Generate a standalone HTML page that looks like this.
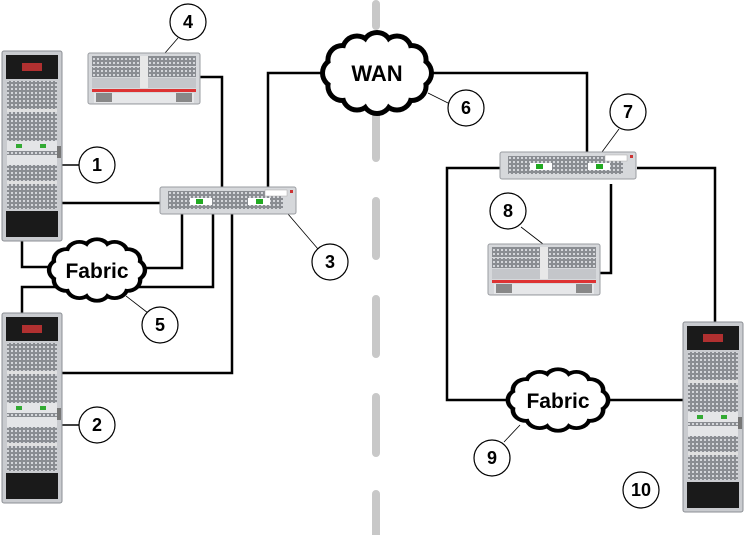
<!DOCTYPE html>
<html><head><style>
html,body{margin:0;padding:0;background:#fff;}
svg{display:block;}
text{font-family:"Liberation Sans",Arial,sans-serif;font-weight:bold;}
</style></head><body>
<svg width="745" height="535" viewBox="0 0 745 535" xmlns="http://www.w3.org/2000/svg">
<defs>
  <pattern id="vent" width="4" height="4" patternUnits="userSpaceOnUse">
    <rect width="4" height="4" fill="#8a8d92"/><rect x="1" y="1" width="2" height="2" fill="#d4d6da"/>
  </pattern>
  <g id="cloudShape">
    <g fill="#000">
      <ellipse cx="0" cy="0" rx="42" ry="28"/>
      <circle cx="40" cy="0" r="17"/><circle cx="34.6" cy="13" r="17"/><circle cx="20" cy="22.5" r="17"/>
      <circle cx="0" cy="26" r="17"/><circle cx="-20" cy="22.5" r="17"/><circle cx="-34.6" cy="13" r="17"/>
      <circle cx="-40" cy="0" r="17"/><circle cx="-34.6" cy="-13" r="17"/><circle cx="-20" cy="-22.5" r="17"/>
      <circle cx="0" cy="-26" r="17"/><circle cx="20" cy="-22.5" r="17"/><circle cx="34.6" cy="-13" r="17"/>
    </g>
    <g fill="#fff">
      <ellipse cx="0" cy="0" rx="42" ry="28"/>
      <circle cx="40" cy="0" r="12"/><circle cx="34.6" cy="13" r="12"/><circle cx="20" cy="22.5" r="12"/>
      <circle cx="0" cy="26" r="12"/><circle cx="-20" cy="22.5" r="12"/><circle cx="-34.6" cy="13" r="12"/>
      <circle cx="-40" cy="0" r="12"/><circle cx="-34.6" cy="-13" r="12"/><circle cx="-20" cy="-22.5" r="12"/>
      <circle cx="0" cy="-26" r="12"/><circle cx="20" cy="-22.5" r="12"/><circle cx="34.6" cy="-13" r="12"/>
    </g>
  </g>
  <g id="rack">
    <rect x="0" y="0" width="60" height="190" rx="2" fill="#c9cbcf" stroke="#8c8f94"/>
    <rect x="4" y="4" width="52" height="24" fill="#1a1a1a"/>
    <rect x="20" y="12" width="20" height="8" fill="#b03030"/>
    <rect x="5" y="30" width="50" height="128" fill="url(#vent)"/>
    <rect x="5" y="58" width="50" height="3" fill="#e0e0e0"/>
    <rect x="5" y="90" width="50" height="10" fill="#e4e5e7"/>
    <rect x="14" y="93" width="6" height="4" fill="#3a3"/><rect x="38" y="93" width="6" height="4" fill="#3a3"/>
    <rect x="5" y="104" width="50" height="10" fill="#e4e5e7"/>
    <rect x="5" y="130" width="50" height="3" fill="#e0e0e0"/>
    <rect x="4" y="160" width="52" height="26" fill="#1a1a1a"/>
    <rect x="55" y="95" width="4" height="12" fill="#777"/>
  </g>
  <g id="srv1u">
    <rect x="0" y="0" width="136" height="27" rx="2" fill="#d6d8db" stroke="#9a9da2"/>
    <rect x="8" y="4" width="115" height="18" fill="url(#vent)"/>
    <rect x="30" y="11" width="22" height="7" fill="#fff"/><rect x="36" y="12" width="7" height="5" fill="#2a2"/>
    <rect x="88" y="11" width="22" height="7" fill="#fff"/><rect x="96" y="12" width="7" height="5" fill="#2a2"/>
    <rect x="105" y="3" width="22" height="6" fill="#fff" stroke="#aaa" stroke-width="0.5"/>
    <rect x="130" y="3" width="3" height="3" fill="#c33"/>
  </g>
  <g id="srv4u">
    <rect x="0" y="0" width="112" height="51" rx="2" fill="#d6d8db" stroke="#9a9da2"/>
    <rect x="4" y="3" width="104" height="10" fill="url(#vent)"/>
    <rect x="4" y="14" width="104" height="10" fill="url(#vent)"/>
    <rect x="4" y="25" width="104" height="10" fill="#c4c6ca"/>
    <rect x="52" y="3" width="8" height="32" fill="#e8e8e8"/>
    <rect x="4" y="36" width="104" height="3" fill="#d33"/>
    <rect x="6" y="40" width="100" height="10" fill="#e6e7e9"/>
    <rect x="8" y="40" width="16" height="9" fill="#888"/><rect x="88" y="40" width="16" height="9" fill="#888"/>
  </g>
</defs>

<!-- dashed divider -->
<path d="M376,4 V26 M376,40 V158 M376,201 V256 M376,299 V354 M376,397 V453 M376,494 V540" stroke="#c8c8c8" stroke-width="8" stroke-linecap="round" fill="none"/>

<!-- connectors -->
<g fill="none" stroke="#000" stroke-width="2.5">
  <polyline points="200,77 222,77 222,187"/>
  <polyline points="268,187 268,73 330,73"/>
  <polyline points="425,73 587,73 587,152"/>
  <line x1="62" y1="203" x2="160" y2="203"/>
  <polyline points="22,240 22,267 58,267"/>
  <polyline points="138,268 182,268 182,214"/>
  <polyline points="130,287 213,287 213,214"/>
  <polyline points="22,313 22,287 60,287"/>
  <polyline points="232,214 232,373 62,373"/>
  <polyline points="500,168 447,168 447,400 512,400"/>
  <polyline points="637,168 715,168 715,322"/>
  <polyline points="611,184 611,273 600,273"/>
  <line x1="604" y1="400" x2="683" y2="400"/>
  <line x1="62" y1="165" x2="79" y2="165" stroke-width="1.5"/>
  <line x1="62" y1="425" x2="79" y2="425" stroke-width="1.5"/>
</g>
<g stroke="#000" stroke-width="0.8">
  <line x1="178" y1="38" x2="165" y2="53"/>
  <line x1="288" y1="214" x2="318" y2="249"/>
  <line x1="126" y1="296" x2="148" y2="313"/>
  <line x1="428" y1="93" x2="450" y2="104"/>
  <line x1="619" y1="129" x2="602" y2="152"/>
  <line x1="521" y1="227" x2="543" y2="244"/>
  <line x1="520" y1="425" x2="504" y2="442"/>
</g>

<!-- devices -->
<use href="#rack" x="2" y="51"/>
<use href="#rack" x="2" y="313"/>
<use href="#rack" x="683" y="322"/>
<use href="#srv4u" x="88" y="53"/>
<use href="#srv4u" x="488" y="244"/>
<use href="#srv1u" x="160" y="187"/>
<use href="#srv1u" x="500" y="152"/>

<!-- clouds -->
<g transform="translate(377,73)"><use href="#cloudShape"/></g>
<g transform="translate(97,270) scale(0.88,0.76)"><use href="#cloudShape"/></g>
<g transform="translate(558,400) scale(0.92,0.76)"><use href="#cloudShape"/></g>
<text x="377" y="81" font-size="22" text-anchor="middle">WAN</text>
<text x="97" y="278" font-size="21" text-anchor="middle">Fabric</text>
<text x="558" y="408" font-size="21" text-anchor="middle">Fabric</text>

<!-- callouts -->
<g fill="#fff" stroke="#000" stroke-width="1.2">
  <circle cx="97" cy="165" r="18"/><circle cx="188" cy="22" r="18"/><circle cx="330" cy="262" r="18"/>
  <circle cx="160" cy="325" r="18"/><circle cx="97" cy="425" r="18"/><circle cx="466" cy="108" r="18"/>
  <circle cx="628" cy="112" r="18"/><circle cx="508" cy="211" r="18"/><circle cx="492" cy="458" r="18"/>
  <circle cx="641" cy="490" r="18"/>
</g>
<g font-size="18" text-anchor="middle">
  <text x="97" y="171">1</text><text x="188" y="28">4</text><text x="330" y="268">3</text>
  <text x="160" y="331">5</text><text x="97" y="431">2</text><text x="466" y="114">6</text>
  <text x="628" y="118">7</text><text x="508" y="217">8</text><text x="492" y="464">9</text>
  <text x="641" y="496">10</text>
</g>
</svg>
</body></html>
